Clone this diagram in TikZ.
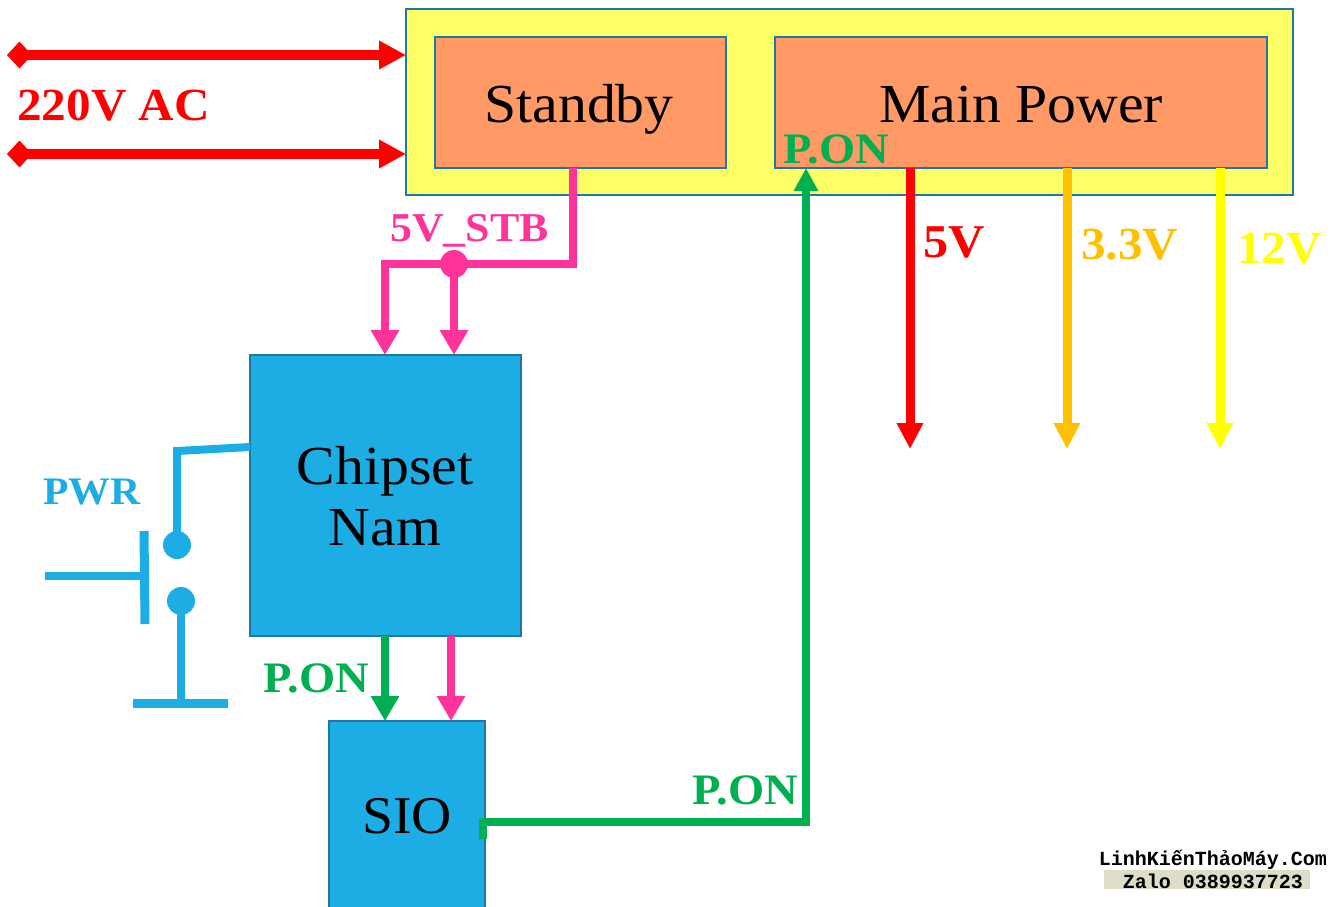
\documentclass[tikz,border=0pt]{standalone}
\usepackage{fontspec}
\setmainfont{Liberation Serif}
\setmonofont{Liberation Mono}
\newfontfamily\lblfont[FakeStretch=1.05]{Liberation Serif}
\newfontfamily\tagfont[FakeStretch=1.07]{Liberation Serif}
\usetikzlibrary{arrows.meta}
\definecolor{cYel}{HTML}{FFFF66}
\definecolor{cOrg}{HTML}{FF9966}
\definecolor{cEdge}{HTML}{1F77A4}
\definecolor{cBlue}{HTML}{1CADE4}
\definecolor{cPink}{HTML}{FF3399}
\definecolor{cGreen}{HTML}{00B050}
\definecolor{cAmber}{HTML}{FFC000}
\definecolor{cYline}{HTML}{FFFF00}
\tikzset{
  box/.style={draw=cEdge,line width=2.8pt,inner sep=0pt,outer sep=0pt,anchor=north west},
  chipbox/.style={box,line width=2.2pt,fill=cBlue},
  lbl/.style={font=\lblfont\fontsize{55}{61}\selectfont,text=black,inner sep=0pt,align=center,anchor=base},
  tag/.style={font=\tagfont\bfseries\fontsize{#1}{#1}\selectfont,inner sep=0pt,anchor=base west},
  wire/.style={line width=8pt},
  power/.style={line width=9pt,-{Triangle[length=26pt,width=25pt]}},
  mains/.style={line width=10pt,red,{Diamond[length=25pt,width=27pt]}-{Triangle[length=27pt,width=27pt]}},
  sig/.style={line width=8.5pt,-{Triangle[length=25pt,width=27pt]}},
  dot/.style={circle,inner sep=0pt,minimum size=28pt,fill=#1,outer sep=0pt},
  wmark/.style={font=\ttfamily\bfseries\fontsize{20}{22}\selectfont,inner sep=0pt}
}
\begin{document}
\begin{tikzpicture}[x=1pt,y=-1pt]
\useasboundingbox (0,0) rectangle (1331,906);
\clip (0,0) rectangle (1331,906);
\node[box,fill=cYel,minimum width=887pt,minimum height=186pt] (psu) at (406,9) {};
\node[box,fill=cOrg,minimum width=291pt,minimum height=131pt] (stby) at (435,37) {};
\node[box,fill=cOrg,minimum width=492pt,minimum height=131pt] (main) at (775,37) {};
\node[lbl] (stbyt) at (579,122) {Standby};
\node[lbl] (maint) at (1021,122) {Main Power};
\node[chipbox,minimum width=271pt,minimum height=281pt] (chip) at (250,355) {};
\node[lbl] (chipt) at (385,484) {Chipset};
\node[lbl] (chipn) at (385,545) {Nam};
\node[chipbox,minimum width=156pt,minimum height=200pt] (sio) at (329,721) {};
\node[lbl,font=\lblfont\fontsize{53}{61}\selectfont] (siot) at (407,833) {SIO};
% mains
\coordinate (ac1) at (7,55);
\coordinate (ac2) at (7,154);
\draw[mains] (ac1) -- (ac1 -| psu.west);
\draw[mains] (ac2) -- (ac2 -| psu.west);
\node[tag=46,text=red] (ac) at (17,120) {220V AC};
% 5V_STB
\coordinate (stbout) at (573,168);
\coordinate (jn) at (454,264);
\coordinate (pinkL) at (385,264);
\draw[wire,cPink] (stbout) |- (pinkL);
\draw[sig,cPink] (385,260) -- (385,355);
\node[dot=cPink] (jdot) at (jn) {};
\draw[sig,cPink] (jdot.center) -- (jdot |- chip.north);
\node[tag=41,text=cPink] (stbt) at (390,241) {5V\_STB};
% rails
\coordinate (r5) at (910,168);
\coordinate (r33) at (1067,168);
\coordinate (r12) at (1220,168);
\coordinate (e5) at (910,449);
\coordinate (e33) at (1067,449);
\coordinate (e12) at (1220,449);
\draw[power,red] (r5) -- (e5);
\draw[power,cAmber] (r33) -- (e33);
\draw[power,cYline] (r12) -- (e12);
\node[tag=47,text=red] (t5) at (923,257) {5V};
\node[tag=46,text=cAmber] (t33) at (1081,259) {3.3V};
\node[tag=46,text=cYline] (t12) at (1237,263) {12V};
% chip to sio
\draw[sig,cGreen] (385,636) -- (385,721);
\draw[sig,cPink] (451,636) -- (451,721);
\node[tag=43.5,text=cGreen] (pon1) at (263,692) {P.ON};
% sio to main
\coordinate (bend) at (806,822);
\coordinate (stubTop) at (483,818);
\coordinate (stubEnd) at (483,839);
\draw[wire,cGreen] (stubTop) -- (stubEnd);
\draw[wire,cGreen,-{Triangle[length=23pt,width=23pt]}] (stubTop |- bend) -- (bend) -- (806,168);
\node[tag=43.5,text=cGreen] (pon2) at (692,804) {P.ON};
\node[tag=43.5,text=cGreen] (pon3) at (783,163) {P.ON};
% switch
\node[dot=cBlue] (s1) at (177,545) {};
\node[dot=cBlue] (s2) at (181,601) {};
\coordinate (gnd) at (181,703);
\coordinate (gl) at (133,703);
\coordinate (gr) at (228,703);
\coordinate (plA) at (144,531);
\coordinate (plB) at (145,624);
\coordinate (pb) at (45,576);
\coordinate (top) at (177,451);
\coordinate (chipIn) at (250,447);
\draw[wire,cBlue] (chipIn) -- (top) -- (s1.center);
\draw[wire,cBlue] (s2.center) -- (gnd);
\draw[wire,cBlue,line width=9pt] (gl) -- (gr);
\draw[wire,cBlue,line width=9pt] (plA) -- (plB);
\draw[wire,cBlue] (pb) -- (144,576);
\node[tag=39,text=cBlue] (pwr) at (43,504) {PWR};
% watermark
\fill[cYel!35!gray!40] (1104,870) rectangle (1310,889);
\node[wmark,text=black] (w1) at (1213,860) {LinhKiếnThảoMáy.Com};
\node[wmark,text=black] (w2) at (1213,881) {Zalo 0389937723};
\end{tikzpicture}
\end{document}
